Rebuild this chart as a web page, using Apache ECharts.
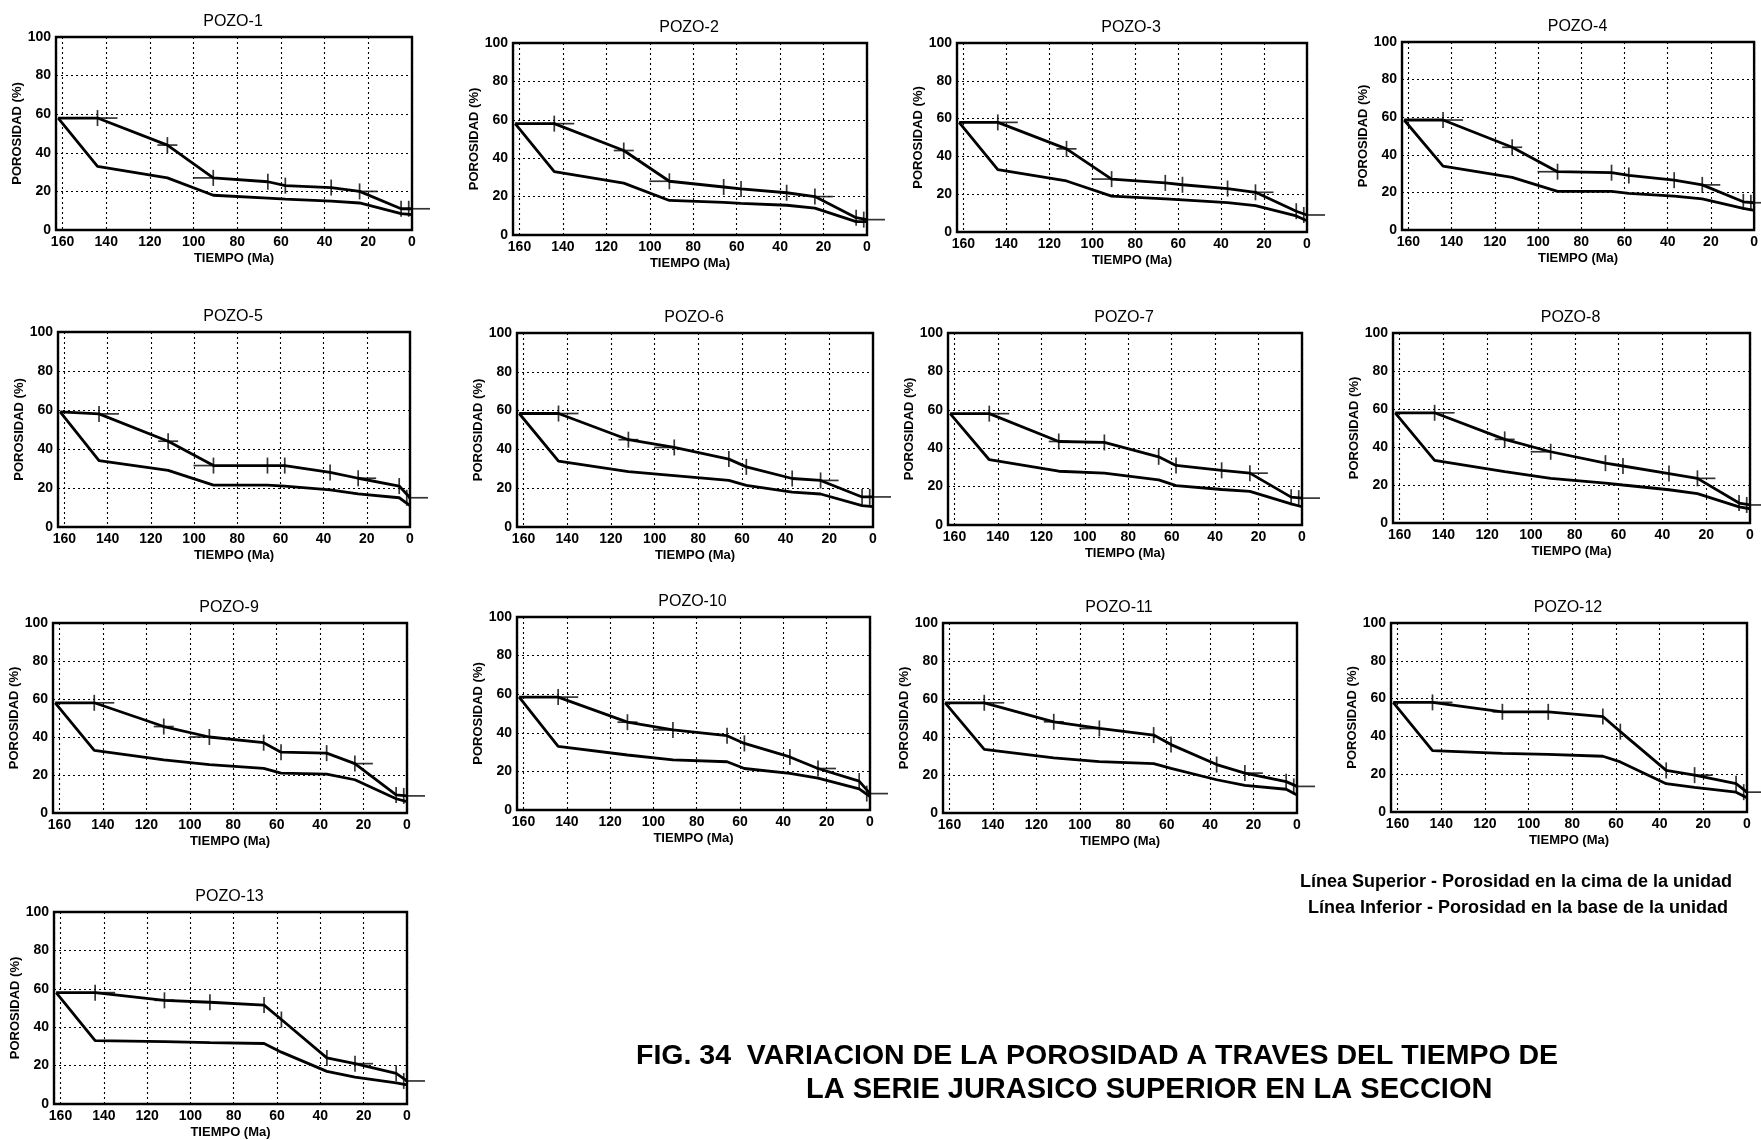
<!DOCTYPE html>
<html><head><meta charset="utf-8">
<script src="https://cdn.jsdelivr.net/npm/echarts@6/dist/echarts.min.js"></script>
<style>html,body{margin:0;padding:0;background:#fff}#c{width:1761px;height:1140px}</style>
</head><body><div id="c"></div><script>
// ---------- DATA ----------
const AGES = [162, 144, 112, 91, 66, 58, 37, 24, 5, 0];      // vertex ages (Ma)
const X_TICKS = [160, 140, 120, 100, 80, 60, 40, 20, 0];      // x tick labels
const Y_TICKS = [0, 20, 40, 60, 80, 100];                      // y tick labels
const TITLES = ['POZO-1','POZO-2','POZO-3','POZO-4','POZO-5','POZO-6','POZO-7','POZO-8','POZO-9','POZO-10','POZO-11','POZO-12','POZO-13'];

// Línea Superior (cima) / Línea Inferior (base), porosity % at AGES
const POZO_1_SUP  = [58, 58, 44, 27, 25, 23, 22, 20, 11, 11];
const POZO_1_INF  = [58, 33, 27, 18, 16.5, 16, 15, 14, 8.5, 8];
const POZO_2_SUP  = [58, 58, 44, 28, 25, 24, 22, 20, 9, 8];
const POZO_2_INF  = [58, 33, 27, 18, 17, 16.5, 15.5, 14, 7, 7];
const POZO_3_SUP  = [58, 58, 44, 28, 26, 25, 23, 21, 11, 9];
const POZO_3_INF  = [58, 33, 27, 19, 17.5, 17, 15.5, 14, 8.5, 6];
const POZO_4_SUP  = [58.5, 58.5, 44, 31, 30.5, 29, 26.5, 24, 15, 14.5];
const POZO_4_INF  = [58.5, 34, 28, 20.5, 20.5, 19.5, 18, 16.5, 11.5, 10.5];
const POZO_5_SUP  = [59, 58, 44, 31.5, 31.5, 31.5, 28, 25, 21, 15];
const POZO_5_INF  = [59, 34, 29, 21.5, 21.5, 21, 19, 17, 15, 11];
const POZO_6_SUP  = [58.5, 58.5, 45, 41, 35, 31, 25, 24, 15.5, 15.5];
const POZO_6_INF  = [58.5, 34, 28.5, 26.5, 24, 21.5, 18, 17, 11, 10.5];
const POZO_7_SUP  = [58, 58, 43.5, 43, 35.5, 31, 28.5, 27, 14.5, 14];
const POZO_7_INF  = [58, 34, 28, 27, 23.5, 20.5, 18.5, 17.5, 11, 9.5];
const POZO_8_SUP  = [58, 58, 44, 37.5, 31.5, 30, 26, 23.5, 10.5, 9.5];
const POZO_8_INF  = [58, 33, 27, 23.5, 21, 20, 17.5, 15.5, 8.5, 7.5];
const POZO_9_SUP  = [58, 58, 45.5, 40, 37, 32, 31.5, 26, 9.5, 9];
const POZO_9_INF  = [58, 33, 28, 25.5, 23.5, 21, 20.5, 17.5, 7.5, 6];
const POZO_10_SUP = [58.5, 58.5, 45.5, 41.5, 38.5, 34.5, 27.5, 21.5, 15, 8.5];
const POZO_10_INF = [58.5, 33, 28.5, 26, 25, 21.5, 19, 16.5, 11, 7];
const POZO_11_SUP = [58, 58, 48, 44.5, 41, 36, 25.5, 21, 16.5, 14];
const POZO_11_INF = [58, 33.5, 29, 27, 26, 23.5, 17.5, 14.5, 12.5, 9.5];
const POZO_12_SUP = [58, 58, 53, 53, 50.5, 42.5, 22, 19.5, 15, 10.5];
const POZO_12_INF = [58, 32.5, 31, 30.5, 29.5, 26.5, 15, 13, 10.5, 7.5];
const POZO_13_SUP = [58, 58, 54, 53, 51.5, 44, 24, 21, 16, 12];
const POZO_13_INF = [58, 33, 32.5, 32, 31.5, 27, 17, 14, 11, 10];

// event markers on upper line: ages and index of upper value they sit on
const TICK_AGES = [144, 112, 91, 66, 58, 37, 24, 5, 1.5];
const TICK_IDX  = [1, 2, 3, 4, 5, 6, 7, 8, 9];
const DASH_AGES = [144, 112, 91, 24, 0];
const DASH_IDX  = [1, 2, 3, 7, 9];

const LEGEND_LINES = ['Línea Superior - Porosidad en la cima de la unidad', 'Línea Inferior - Porosidad en la base de la unidad'];
const FIG_TITLE = ['FIG. 34  VARIACION DE LA POROSIDAD A TRAVES DEL TIEMPO DE', 'LA SERIE JURASICO SUPERIOR EN LA SECCION'];

const SUP = [POZO_1_SUP,POZO_2_SUP,POZO_3_SUP,POZO_4_SUP,POZO_5_SUP,POZO_6_SUP,POZO_7_SUP,POZO_8_SUP,POZO_9_SUP,POZO_10_SUP,POZO_11_SUP,POZO_12_SUP,POZO_13_SUP];
const INF = [POZO_1_INF,POZO_2_INF,POZO_3_INF,POZO_4_INF,POZO_5_INF,POZO_6_INF,POZO_7_INF,POZO_8_INF,POZO_9_INF,POZO_10_INF,POZO_11_INF,POZO_12_INF,POZO_13_INF];

// ---------- LAYOUT (plot boxes: left, right, top, bottom) ----------
const LAYOUT = [
  [56, 412, 37, 230], [513, 867, 43, 235], [957, 1307, 43, 232], [1402, 1755, 42, 230],
  [58, 410, 332, 527], [517, 873, 333, 527], [948, 1302, 333, 525], [1393, 1750, 333, 523],
  [53, 407, 623, 813], [517, 870, 617, 810], [943, 1297, 623, 813], [1391, 1747, 623, 812],
  [54, 407, 912, 1104]
];
const DASH_OFF = [10, 0, -10, 8, 8];

const FONT = '"Liberation Sans", Arial, Helvetica, sans-serif';
const grids = [], xAxes = [], yAxes = [], series = [], titles = [];
const dotted = {show: true, lineStyle: {color: '#000', width: 1.1, type: [2, 3]}};

SUP.forEach((sup, i) => {
  const inf = INF[i];
  const [L, R, T, B] = LAYOUT[i];
  grids.push({left: L, top: T, width: R - L, height: B - T, show: true, borderColor: '#000', borderWidth: 2.4, backgroundColor: 'transparent'});
  xAxes.push({
    gridIndex: i, type: 'value', min: 0, max: 163, interval: 20, inverse: true,
    name: 'TIEMPO (Ma)', nameLocation: 'middle', nameGap: 22,
    nameTextStyle: {fontFamily: FONT, fontWeight: 'bold', fontSize: 13, color: '#000'},
    axisLine: {show: false}, axisTick: {show: false},
    axisLabel: {margin: 5, fontFamily: FONT, fontWeight: 'bold', fontSize: 14, color: '#000',
      formatter: v => X_TICKS.includes(v) ? String(v) : ''},
    splitLine: dotted
  });
  yAxes.push({
    gridIndex: i, type: 'value', min: 0, max: 100, interval: 20,
    name: 'POROSIDAD (%)', nameLocation: 'middle', nameGap: 27,
    nameTextStyle: {fontFamily: FONT, fontWeight: 'bold', fontSize: 13, color: '#000'},
    axisLine: {show: false}, axisTick: {show: false},
    axisLabel: {margin: 5, fontFamily: FONT, fontWeight: 'bold', fontSize: 14, color: '#000',
      formatter: v => Y_TICKS.includes(v) ? String(v) : ''},
    splitLine: dotted
  });
  titles.push({text: TITLES[i], left: (L + R) / 2 - 6, top: T - 28, textAlign: 'center',
    textStyle: {fontFamily: FONT, fontWeight: 'normal', fontSize: 16, color: '#000'}});
  const lineStyle = {color: '#000', width: 2.8};
  series.push({type: 'line', xAxisIndex: i, yAxisIndex: i, symbol: 'none', lineStyle, animation: false, z: 3,
    data: AGES.map((a, k) => [a, sup[k]])});
  series.push({type: 'line', xAxisIndex: i, yAxisIndex: i, symbol: 'none', lineStyle, animation: false, z: 3,
    data: AGES.map((a, k) => [a, inf[k]])});
  series.push({type: 'scatter', xAxisIndex: i, yAxisIndex: i, symbol: 'rect', symbolSize: [1.7, 16],
    itemStyle: {color: '#000'}, animation: false, z: 4, clip: false,
    data: TICK_AGES.map((a, k) => [a, sup[TICK_IDX[k]]])});
  DASH_AGES.forEach((a, k) => {
    series.push({type: 'scatter', xAxisIndex: i, yAxisIndex: i, symbol: 'rect', symbolSize: [20, 1.7],
      symbolOffset: [DASH_OFF[k], 0], itemStyle: {color: '#000'}, animation: false, z: 4, clip: false,
      data: [[a, sup[DASH_IDX[k]]]]});
  });
});

const graphic = [
  {type: 'text', left: 1300, top: 873, style: {text: LEGEND_LINES[0], font: 'bold 18px ' + FONT, fill: '#000'}},
  {type: 'text', left: 1308, top: 899, style: {text: LEGEND_LINES[1], font: 'bold 18px ' + FONT, fill: '#000'}},
  {type: 'text', left: 636, top: 1042, style: {text: FIG_TITLE[0], font: 'bold 28.5px ' + FONT, fill: '#000'}},
  {type: 'text', left: 806, top: 1075, style: {text: FIG_TITLE[1], font: 'bold 29px ' + FONT, fill: '#000'}}
];

const chart = echarts.init(document.getElementById('c'), null, {renderer: 'canvas'});
chart.setOption({
  backgroundColor: '#fff', animation: false,
  title: titles, grid: grids, xAxis: xAxes, yAxis: yAxes, series, graphic
});
</script></body></html>
